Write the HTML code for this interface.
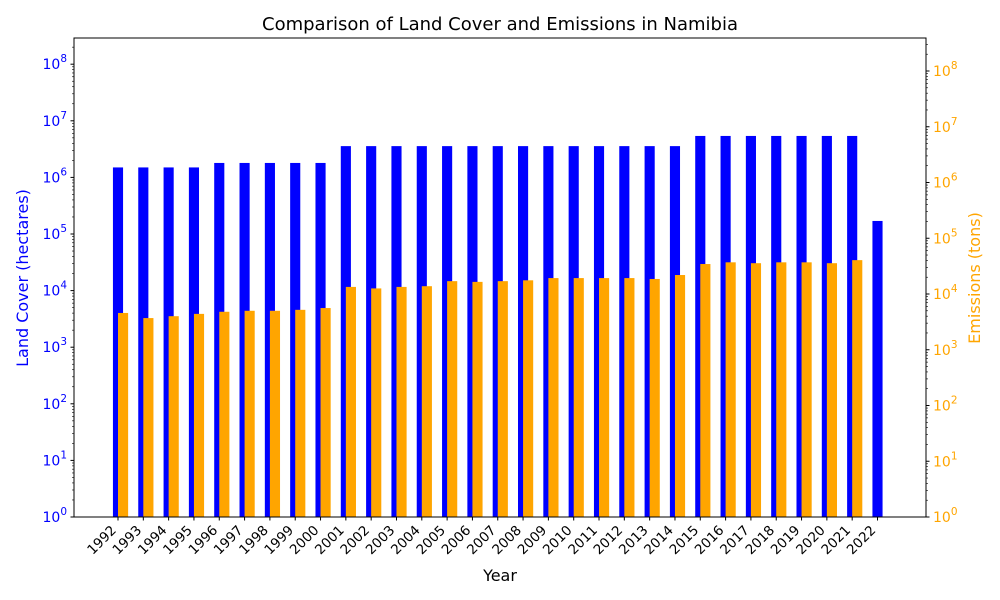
<!DOCTYPE html>
<html><head><meta charset="utf-8"><style>
body{margin:0;background:#fff}
svg{display:block;font-family:"DejaVu Sans","Liberation Sans",sans-serif}
</style></head><body>
<svg id="chart" width="1000" height="600">
<text x="500" y="30" text-anchor="middle" font-size="18">Comparison of Land Cover and Emissions in Namibia</text>
<g id="bars"></g>
<g id="axes"></g>
<text x="500" y="581" text-anchor="middle" font-size="16">Year</text>
<text transform="translate(28,278) rotate(-90)" text-anchor="middle" font-size="16" fill="blue">Land Cover (hectares)</text>
<text transform="translate(980,278) rotate(-90)" text-anchor="middle" font-size="16" fill="orange">Emissions (tons)</text>
</svg>
<script>
const years=[1992,1993,1994,1995,1996,1997,1998,1999,2000,2001,2002,2003,2004,2005,2006,2007,2008,2009,2010,2011,2012,2013,2014,2015,2016,2017,2018,2019,2020,2021,2022];
const landCover=[1.5e6,1.5e6,1.5e6,1.5e6,1.8e6,1.8e6,1.8e6,1.8e6,1.8e6,3.57e6,3.57e6,3.57e6,3.57e6,3.57e6,3.57e6,3.57e6,3.57e6,3.57e6,3.57e6,3.57e6,3.57e6,3.57e6,3.57e6,5.4e6,5.4e6,5.4e6,5.4e6,5.4e6,5.4e6,5.4e6,1.7e5];
const emissions=[4570,3700,4000,4400,4800,5000,5000,5200,5600,13400,12600,13400,13800,17000,16500,17000,17600,19300,19300,19300,19300,18600,21900,34500,37000,35700,37000,37000,35700,40500,null];
const leftTicks=[0,1,2,3,4,5,6,7,8];
const rightTicks=[0,1,2,3,4,5,6,7,8];
const NS='http://www.w3.org/2000/svg';
const L=74,R=926,T=38,B=517;
const x0=118,dx=(877.5-118)/30;
const xs=i=>x0+i*dx;
const yL=v=>B-Math.log10(v)*56.6;
const yR=v=>B-Math.log10(v)*55.75;
function mk(tag,attrs,parent){const e=document.createElementNS(NS,tag);for(const k in attrs)e.setAttribute(k,attrs[k]);parent.appendChild(e);return e;}
const bars=document.getElementById('bars'),axes=document.getElementById('axes');
const bw=dx*0.4;
years.forEach((y,i)=>{
  const c=xs(i);
  const b=mk('rect',{x:c-bw/2,y:yL(landCover[i]),width:bw,height:B-yL(landCover[i]),fill:'blue'},bars);
  
  
});
years.forEach((y,i)=>{
  if(emissions[i]==null)return;
  const c=xs(i)+dx*0.2;
  const b=mk('rect',{x:c-bw/2,y:yR(emissions[i]),width:bw,height:B-yR(emissions[i]),fill:'orange'},bars);
  
  
});
const frame=mk('rect',{x:L,y:T,width:R-L,height:B-T,fill:'none',stroke:'#000','stroke-width':1},axes);


function logAxis(ticks,yf,side,color,nm){
  const dir=side==='left'?-1:1, X=side==='left'?L:R;
  ticks.forEach(t=>{
    const y=yf(Math.pow(10,t));
    mk('line',{x1:X,x2:X+dir*3.5,y1:y,y2:y,stroke:'#000'},axes);
    const tx=mk('text',{x:X+dir*7,y:y+5,'text-anchor':side==='left'?'end':'start','font-size':14,fill:color},axes);
    
    
    tx.innerHTML='10<tspan dy="-7" font-size="10.5">'+t+'</tspan>';
    for(let m=2;m<10;m++){
      const ym=yf(m*Math.pow(10,t));
      if(ym<T)continue;
      mk('line',{x1:X,x2:X+dir*2,y1:ym,y2:ym,stroke:'#000','stroke-width':0.6},axes);
    }
  });
}
logAxis(leftTicks,yL,'left','blue','left-y');
logAxis(rightTicks,yR,'right','orange','right-y');
years.forEach((y,i)=>{
  const c=xs(i);
  mk('line',{x1:c,x2:c,y1:B,y2:B+3.5,stroke:'#000'},axes);
  const t=mk('text',{transform:`translate(${c-1},${B+14}) rotate(-45)`,'text-anchor':'end','font-size':13.5},axes);
  
  
  t.textContent=y;
});
</script>
</body></html>
